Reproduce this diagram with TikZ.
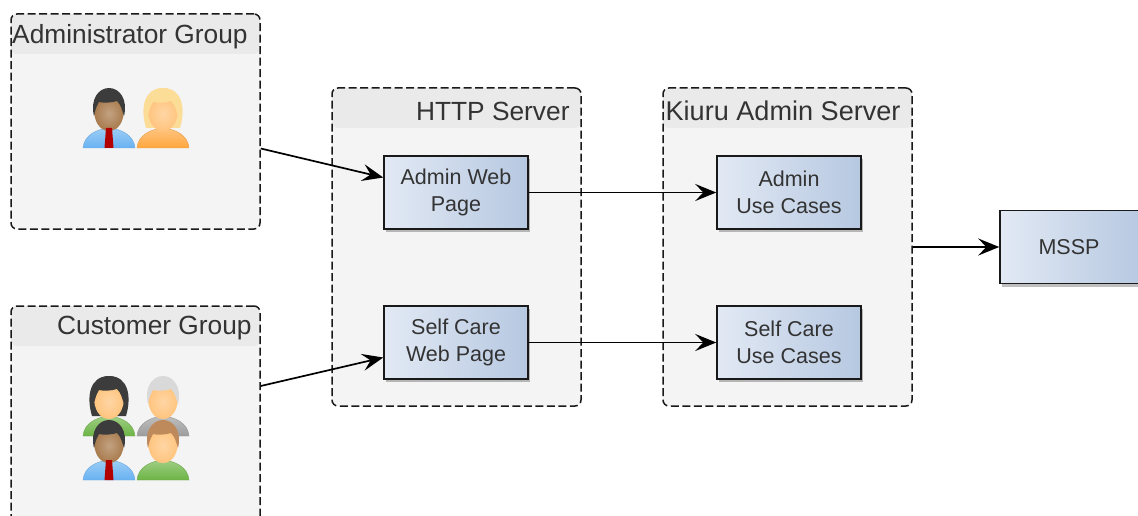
\documentclass[tikz,border=0pt]{standalone}
\usepackage{fontspec}
\setmainfont{Liberation Sans}
\usetikzlibrary{arrows.meta, calc, positioning, shadows}

\definecolor{bandgrey}{HTML}{EAEAEA}
\definecolor{panelgrey}{HTML}{F4F4F4}
\definecolor{inkgrey}{HTML}{333333}
\definecolor{boxleft}{HTML}{E2E9F4}
\definecolor{boxright}{HTML}{B6C8E1}
\definecolor{shirtblue}{HTML}{68B2F2}
\definecolor{shirtorange}{HTML}{FFA63D}
\definecolor{shirtgreen}{HTML}{6CB444}
\definecolor{shirtgrey}{HTML}{9C9C9C}
\definecolor{skinlight}{HTML}{FFC47E}
\definecolor{skindark}{HTML}{A87A4C}
\definecolor{hairdark}{HTML}{3C3C3C}
\definecolor{hairblond}{HTML}{FBDD98}
\definecolor{hairwhite}{HTML}{D9D9D9}
\definecolor{hairbrown}{HTML}{BE8A5C}

\tikzset{
    groupbox/.style={draw=black!90, fill=panelgrey, line width=1.5pt, rounded corners=6pt,
        dash pattern=on 8pt off 3.5pt, minimum width=249pt, inner sep=0pt,
        path picture={\fill[bandgrey] (path picture bounding box.north west) rectangle
            ([yshift=-40pt]path picture bounding box.north east);}},
    grouptitle/.style={font=\fontsize{26.3}{28}\selectfont, text=inkgrey, inner sep=0pt},
    pagebox/.style={draw=black!90, line width=1.5pt, left color=boxleft, right color=boxright,
        minimum width=144pt, minimum height=73pt, inner sep=0pt, align=center,
        font=\fontsize{21.5}{27}\selectfont, text=inkgrey,
        drop shadow={shadow xshift=2pt, shadow yshift=-3pt, opacity=0.25, fill=black}},
    link/.style={draw=black, line width=1.7pt, -{Stealth[length=21pt,width=17pt,inset=8pt]}},
    % short hair sits on top of the head, long hair goes behind it
    pics/bust/.style n args={3}{code={
        \path[draw=#1!80!gray, line width=.4pt, top color=#1!65!white, bottom color=#1]
            (-26,0) .. controls (-25,-13) and (-12,-19) .. (0,-20)
            .. controls (12,-19) and (25,-13) .. (26,0) -- cycle;
        \path[inner color=#2!70!white, outer color=#2]
            (0,-17) .. controls (-10,-17) and (-15,-28) .. (-15,-38)
            .. controls (-15,-52) and (15,-52) .. (15,-38)
            .. controls (15,-28) and (10,-17) .. (0,-17) -- cycle;
        \path[fill=#3]
            (-15,-32) .. controls (-19,-48) and (-11,-60) .. (0,-60)
            .. controls (11,-60) and (19,-48) .. (15,-32)
            .. controls (13,-38) and (12,-43) .. (8,-47)
            .. controls (2,-45) and (-6,-45) .. (-10,-46)
            .. controls (-13,-41) and (-14,-37) .. (-15,-32) -- cycle;
    }},
    pics/longhair/.style={code={
        \path[fill=#1]
            (-17,-20) .. controls (-23,-40) and (-19,-60) .. (0,-60)
            .. controls (19,-60) and (23,-40) .. (17,-20) -- cycle;
    }},
    pics/necktie/.style={code={
        \fill[red!70!black] (-3,-20) -- (3,-20) -- (4.5,0) -- (-4.5,0) -- cycle;
    }}
}

\begin{document}
\begin{tikzpicture}[x=1pt, y=-1pt]
    \clip (0,0) rectangle (1138,516);
    \fill[white] (0,0) rectangle (1138,516);

    % groups and servers
    \node[groupbox, minimum height=215pt] (adminGroup) at (135.5,121.5) {};
    \node[groupbox, minimum height=260pt] (customerGroup) at (135.5,436) {};
    \node[groupbox, minimum height=318pt] (httpServer) at (456.5,247) {};
    \node[groupbox, minimum height=318pt] (kiuruServer) at (787.5,247) {};

    \node[grouptitle, anchor=east] (adminTitle) at ([xshift=-13pt,yshift=-23pt]adminGroup.north east) {Administrator Group};
    \node[grouptitle, anchor=east] (customerTitle) at ([xshift=-9pt,yshift=-23pt]customerGroup.north east) {Customer Group};
    \node[grouptitle, anchor=east] (httpTitle) at ([xshift=-12pt,yshift=-24pt]httpServer.north east) {HTTP Server};
    \node[grouptitle, anchor=east, font=\fontsize{27.1}{28}\selectfont] (kiuruTitle) at ([xshift=-12pt,yshift=-24pt]kiuruServer.north east) {Kiuru Admin Server};

    % people
    \pic at (109,148) {bust={shirtblue}{skindark}{hairdark}};
    \pic at (109,148) {necktie};
    \pic at (163,148) {longhair=hairblond};
    \pic at (163,148) {bust={shirtorange}{skinlight}{hairblond}};

    \pic at (109,436) {longhair=hairdark};
    \pic at (109,436) {bust={shirtgreen}{skinlight}{hairdark}};
    \pic at (163,436) {bust={shirtgrey}{skinlight}{hairwhite}};
    \pic at (109,480) {bust={shirtblue}{skindark}{hairdark}};
    \pic at (109,480) {necktie};
    \pic at (163,480) {bust={shirtgreen}{skinlight}{hairbrown}};

    % inner boxes
    \node[pagebox] (adminPage) at (456,192.5) {Admin Web\\Page};
    \node[pagebox] (carePage) at (456,342.5) {Self Care\\Web Page};
    \node[pagebox] (adminCases) at (789,192.5) {Admin\\Use Cases};
    \node[pagebox] (careCases) at (789,342.5) {Self Care\\Use Cases};
    \node[pagebox, text width=144pt] (mssp) at (1072,247) {\hspace*{-6pt}MSSP};

    % connectors
    \draw[link] ([yshift=-27pt]adminGroup.east) -- ([yshift=15pt]adminPage.west);
    \draw[link] ([yshift=50pt]customerGroup.east) -- ([yshift=-15pt]carePage.west);
    \draw[link] (adminPage) -- (adminCases);
    \draw[link] (carePage) -- (careCases);
    \draw[link] (kiuruServer) -- (mssp);
\end{tikzpicture}
\end{document}
